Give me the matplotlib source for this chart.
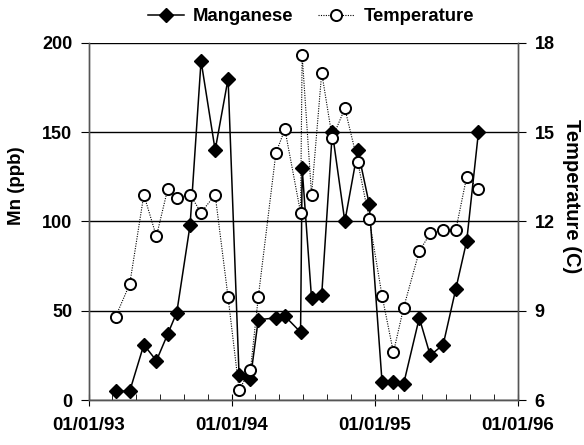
import datetime as dt
import matplotlib
matplotlib.use("Agg")
import matplotlib.pyplot as plt
import matplotlib.dates as mdates

plt.rcParams["font.family"] = ["Liberation Sans", "DejaVu Sans"]
plt.rcParams["font.weight"] = "bold"

# sample dates (same for both series)
sample_dates = [
    "1993-03-10", "1993-04-15", "1993-05-21", "1993-06-22", "1993-07-21",
    "1993-08-13", "1993-09-16", "1993-10-14", "1993-11-19", "1993-12-22",
    "1994-01-19", "1994-02-17", "1994-03-09", "1994-04-23", "1994-05-16",
    "1994-06-25", "1994-06-29", "1994-07-23", "1994-08-18", "1994-09-14",
    "1994-10-16", "1994-11-18", "1994-12-17", "1995-01-19", "1995-02-17",
    "1995-03-15", "1995-04-24", "1995-05-22", "1995-06-24", "1995-07-26",
    "1995-08-23", "1995-09-22",
]
manganese = [5, 5, 31, 22, 37, 49, 98, 190, 140, 180,
             14, 12, 45, 46, 47, 38, 130, 57, 59, 150,
             100, 140, 110, 10, 10, 9, 46, 25, 31, 62,
             89, 150]
temperature = [8.8, 9.9, 12.9, 11.5, 13.1, 12.8, 12.9, 12.3, 12.9, 9.45,
               6.35, 7.0, 9.45, 14.3, 15.1, 12.3, 17.6, 12.9, 17.0, 14.8,
               15.8, 14.0, 12.1, 9.5, 7.6, 9.1, 11.0, 11.6, 11.7, 11.7,
               13.5, 13.1]

dates = [dt.datetime.strptime(d, "%Y-%m-%d") for d in sample_dates]

fig = plt.figure(figsize=(5.84, 4.45), dpi=100)
ax = fig.add_axes([0.1524, 0.1011, 0.7346, 0.8023])
ax2 = ax.twinx()

ln1, = ax.plot(dates, manganese, color="black", lw=1.1, marker="D",
               markersize=7.5, markerfacecolor="black", markeredgecolor="black",
               label="Manganese", clip_on=False)
ln2, = ax2.plot(dates, temperature, color="black", lw=0.8, ls=(0, (1, 1.2)),
                marker="o", markersize=8, markerfacecolor="white",
                markeredgecolor="black", markeredgewidth=1.4,
                label="Temperature", clip_on=False)

ax.set_xlim(dt.datetime(1993, 1, 1), dt.datetime(1996, 1, 1))
ax.set_ylim(0, 200)
ax.set_yticks([0, 50, 100, 150, 200])
ax2.set_ylim(6, 18)
ax2.set_yticks([6, 9, 12, 15, 18])

ax.xaxis.set_major_locator(mdates.YearLocator())
ax.xaxis.set_major_formatter(mdates.DateFormatter("%m/%d/%y"))
ax.xaxis.set_minor_locator(mdates.MonthLocator(bymonth=[3, 5, 7, 9, 11]))

ax.yaxis.grid(True, color="black", lw=1.0)
ax.set_axisbelow(True)
for a in (ax, ax2):
    a.spines["top"].set_visible(False)
    for s in a.spines.values():
        s.set_color("#555555")
        s.set_linewidth(1.0)

ax.tick_params(axis="x", which="major", direction="inout", length=8,
               labelsize=13.5, pad=8)
ax.tick_params(axis="x", which="minor", direction="in", length=4)
ax.tick_params(axis="y", direction="out", length=6, labelsize=13, pad=6)
ax2.tick_params(axis="y", direction="out", length=6, labelsize=13, pad=6)

for lab in ax.get_xticklabels() + ax.get_yticklabels() + ax2.get_yticklabels():
    lab.set_fontweight("bold")

ax.set_ylabel("Mn (ppb)", fontsize=13.5, fontweight="bold")
ax.yaxis.set_label_coords(-0.149, 0.60)
ax2.set_ylabel("Temperature (C)", fontsize=14.5, fontweight="bold",
               rotation=270, va="center")
ax2.yaxis.set_label_coords(1.124, 0.571)

fig.legend(handles=[ln1, ln2], loc="center", bbox_to_anchor=(0.5325, 0.962),
           ncol=2, frameon=False, handlelength=1.95,
           columnspacing=1.35, handletextpad=0.5,
           prop={"weight": "bold", "size": 13.3})

fig.savefig("out.png", dpi=100)
